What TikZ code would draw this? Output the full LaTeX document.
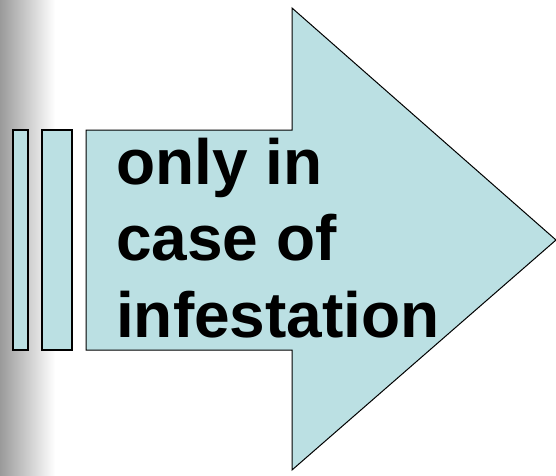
\documentclass[tikz,border=0pt]{standalone}
\usepackage{fontspec}
\setmainfont{Liberation Sans}
\definecolor{fillblue}{HTML}{BBE0E3}
\definecolor{edgegray}{HTML}{9A9A9A}
\begin{document}
\begin{tikzpicture}[x=1pt,y=1pt,
  shapebox/.style={draw=black,line width=1.2pt,fill=fillblue,line join=miter}]
\useasboundingbox (0,0) rectangle (556,475);
\fill[white] (0,0) rectangle (556,475);
\shade[left color=edgegray,right color=white,shading angle=90] (0,0) rectangle (55,475);
\draw[shapebox] (13,125) rectangle (28,345);
\draw[shapebox] (42,125) rectangle (72,345);
\draw[shapebox,line width=1pt] (86,125) -- (86,345) -- (292,345) -- (292,467) -- (556,235)
  -- (292,5) -- (292,125) -- cycle;
\node[anchor=base west,inner sep=0pt,font=\fontsize{64}{76}\selectfont\bfseries] (l1) at (116,291) {only in};
\node[anchor=base west,inner sep=0pt,font=\fontsize{64}{76}\selectfont\bfseries] (l2) at (116,215) {case of};
\node[anchor=base west,inner sep=0pt,font=\fontsize{64}{76}\selectfont\bfseries] (l3) at (116,138) {infestation};
\end{tikzpicture}
\end{document}
